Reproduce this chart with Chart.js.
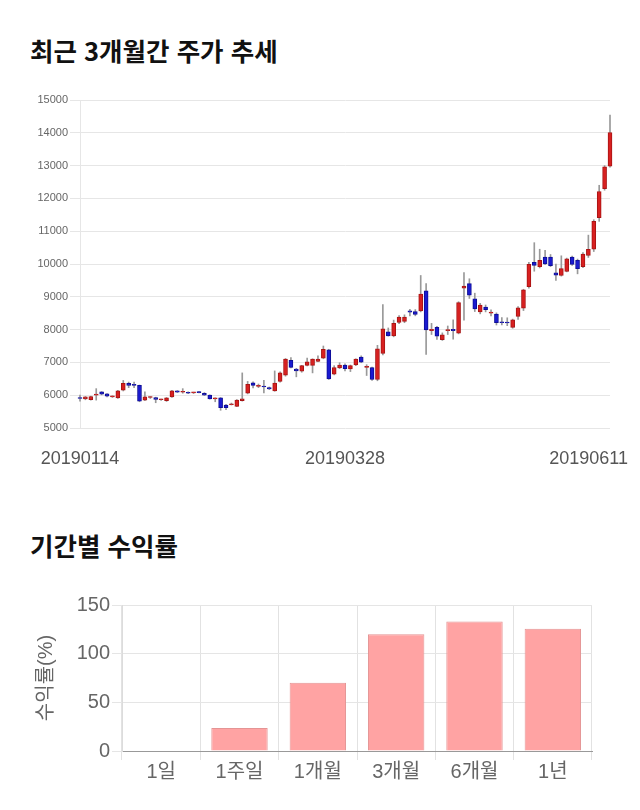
<!DOCTYPE html>
<html lang="ko">
<head>
<meta charset="UTF-8">
<title>최근 3개월간 주가 추세 / 기간별 수익률</title>
<style>
  body { margin: 0; background: #fff; font-family: 'Noto Sans CJK KR', sans-serif; }
  .wrap { position: relative; width: 640px; height: 810px; }
  h2 { position: absolute; left: 30px; margin: 0; font-size: 25.5px; font-weight: bold; color: #111; line-height: 30px; }
  #t1 { top: 35px; }
  #t2 { top: 530px; }
  canvas { position: absolute; left: 0; }
  #priceChart { top: 90px; }
  #returnChart { top: 580px; }
</style>
</head>
<body>
<div class="wrap">
  <h2 id="t1">최근 3개월간 주가 추세</h2>
  <canvas id="priceChart" width="640" height="390"></canvas>
  <h2 id="t2">기간별 수익률</h2>
  <canvas id="returnChart" width="640" height="220"></canvas>
</div>

<script src="https://cdn.jsdelivr.net/npm/chart.js"></script>
<script>
// trading days shown on the price chart
const dates = [
  '20190114','20190115','20190116','20190117','20190118','20190121','20190122','20190123','20190124','20190125',
  '20190128','20190129','20190130','20190131','20190201','20190207','20190208','20190211','20190212','20190213',
  '20190214','20190215','20190218','20190219','20190220','20190221','20190222','20190225','20190226','20190227',
  '20190228','20190304','20190305','20190306','20190307','20190308','20190311','20190312','20190313','20190314',
  '20190315','20190318','20190319','20190320','20190321','20190322','20190325','20190326','20190327','20190328',
  '20190329','20190401','20190402','20190403','20190404','20190405','20190408','20190409','20190410','20190411',
  '20190412','20190415','20190416','20190417','20190418','20190419','20190422','20190423','20190424','20190425',
  '20190426','20190429','20190430','20190502','20190507','20190508','20190509','20190510','20190513','20190514',
  '20190515','20190516','20190517','20190520','20190521','20190522','20190523','20190524','20190527','20190528',
  '20190529','20190530','20190531','20190603','20190604','20190605','20190607','20190610','20190611'
];
const tickIndexes = [0, 49, 98];

const opens = [
  5920,5890,5860,6000,6100,6040,5950,5920,6150,6360,
  6310,6300,5850,5930,5930,5860,5830,5950,6130,6090,
  6090,6070,6110,6060,6000,5890,5920,5700,5710,5660,
  5830,6060,6380,6270,6260,6230,6130,6420,6610,7060,
  6800,6730,6910,6910,7030,7130,7380,6640,6830,6920,
  6800,6920,7160,6850,6840,6480,7270,7930,7810,8220,
  8250,8570,8550,8570,9180,7970,8070,7690,7970,8010,
  7890,9260,9400,8940,8540,8690,8500,8470,8220,8210,
  8070,8400,8650,9310,10050,9920,10210,10210,9730,9650,
  9770,10210,10110,9920,10260,10450,11410,12300,12980
];
const highs = [
  6000,5960,5970,6200,6110,6050,5980,6150,6450,6400,
  6400,6310,6100,5960,5940,5880,5930,6150,6140,6200,
  6100,6090,6120,6080,6010,5920,5930,5720,5760,5870,
  6680,6420,6410,6340,6450,6250,6740,6710,7120,7150,
  6820,6910,7130,7110,7200,7500,7400,6900,6990,6960,
  6920,7110,7200,6930,6860,7520,8760,8050,8290,8430,
  8450,8620,8610,9650,9400,8190,8100,7900,8110,8300,
  8850,9740,9550,9110,8800,8750,8600,8510,8370,8360,
  8320,8700,9230,10050,10650,10450,10420,10290,10000,10250,
  10180,10240,10150,10350,10880,11350,12400,13000,14540
];
const lows = [
  5820,5860,5850,5850,6010,5950,5930,5900,6130,6230,
  6230,5800,5830,5900,5770,5840,5810,5930,6080,6060,
  6050,6050,6070,5990,5880,5800,5540,5560,5700,5650,
  5820,6040,6220,6230,6070,6170,6120,6400,6580,6830,
  6560,6700,6890,6680,7020,7110,6480,6620,6810,6740,
  6720,6900,6990,6600,6450,6440,7230,7800,7780,8180,
  8210,8420,8420,8540,7240,7850,7700,7670,7850,7710,
  7870,8290,8950,8550,8480,8540,8420,8140,8140,8120,
  8040,8310,8580,9260,9780,9880,9980,9920,9500,9630,
  9760,9960,9700,9890,10200,10380,11300,12250,12950
];
const closes = [
  5900,5950,5960,6010,6030,5970,5960,6130,6360,6300,
  6300,5820,5950,5930,5870,5860,5920,6130,6090,6100,
  6060,6070,6080,6000,5890,5900,5620,5620,5730,5850,
  5890,6330,6300,6290,6250,6190,6370,6680,7100,6850,
  6740,6900,7020,7100,7100,7400,6500,6840,6920,6810,
  6900,7100,7010,6850,6480,7410,8020,7810,8190,8380,
  8380,8530,8460,9080,7990,8010,7800,7840,7970,7970,
  8820,9330,9050,8630,8750,8610,8530,8210,8210,8200,
  8300,8660,9210,9990,9960,10110,10000,9950,9660,9860,
  10160,9990,9860,10300,10450,11300,12210,12960,14010
];

// period returns (%)
const periods = ['1일', '1주일', '1개월', '3개월', '6개월', '1년'];
const returns = [0, 23.6, 70, 120, 133, 125.7];

const UP = '#d82020', UP_EDGE = '#a81414';
const DOWN = '#1a1ad0', DOWN_EDGE = '#0e0e96';
const isUp = opens.map((o, i) => closes[i] >= o);

// x labels for the candle chart, kept inside the canvas like the original
const xLabelPlugin = {
  id: 'xLabels',
  afterDraw(chart) {
    const { ctx, chartArea } = chart;
    const x = chart.scales.x;
    ctx.save();
    ctx.font = '18px "Liberation Sans", Arial, sans-serif';
    ctx.fillStyle = '#555';
    ctx.textAlign = 'center';
    ctx.textBaseline = 'middle';
    tickIndexes.forEach(i => {
      const txt = dates[i];
      const w = ctx.measureText(txt).width;
      let px = x.getPixelForValue(i);
      px = Math.min(Math.max(px, w / 2 + 2), chart.width - w / 2 - 12);
      ctx.fillText(txt, px, chartArea.bottom + 31);
    });
    ctx.restore();
  }
};

new Chart(document.getElementById('priceChart'), {
  type: 'bar',
  data: {
    labels: dates,
    datasets: [
      {
        label: 'body',
        data: opens.map((o, i) => [o, closes[i]]),
        backgroundColor: isUp.map(u => u ? UP : DOWN),
        borderColor: isUp.map(u => u ? UP_EDGE : DOWN_EDGE),
        borderWidth: 1,
        borderSkipped: false,
        barThickness: 4,
        minBarLength: 1,
        grouped: false,
        clip: false,
        order: 0
      },
      {
        label: 'wick',
        data: lows.map((l, i) => [l, highs[i]]),
        backgroundColor: '#999',
        barThickness: 1,
        grouped: false,
        clip: false,
        order: 1
      }
    ]
  },
  options: {
    responsive: false,
    animation: false,
    layout: { padding: { left: 0, right: 30, top: 10, bottom: 52 } },
    plugins: { legend: { display: false }, tooltip: { enabled: false } },
    scales: {
      x: { display: false, offset: false },
      y: {
        min: 5000, max: 15000,
        ticks: {
          stepSize: 1000, color: '#666', padding: 2,
          font: { size: 11, family: '"Liberation Sans", Arial, sans-serif' },
          callback: v => String(v)
        },
        grid: { color: '#e6e6e6', tickLength: 10 },
        border: { color: '#e6e6e6' },
        afterFit: s => { s.width = 80; }
      }
    }
  },
  plugins: [xLabelPlugin]
});

const axisFont = { size: 20, family: '"Liberation Sans", "Noto Sans CJK KR", sans-serif' };

new Chart(document.getElementById('returnChart'), {
  type: 'bar',
  data: {
    labels: periods,
    datasets: [{
      data: returns,
      backgroundColor: '#ffa3a3',
      borderColor: '#e49494',
      borderWidth: 1
    }]
  },
  options: {
    responsive: false,
    animation: false,
    layout: { padding: { left: 0, right: 48, top: 25, bottom: 0 } },
    plugins: { legend: { display: false }, tooltip: { enabled: false } },
    scales: {
      x: {
        grid: { offset: true, tickLength: 9, color: c => c.index === periods.length ? 'rgba(0,0,0,0)' : '#e2e2e2' },
        border: { color: '#999' },
        ticks: { color: '#666', padding: 0, font: axisFont },
        afterFit: s => { s.height = 49; }
      },
      y: {
        min: 0, max: 150,
        ticks: { stepSize: 50, color: '#666', padding: 2, font: axisFont },
        grid: { color: '#e5e5e5', tickLength: 10 },
        border: { color: '#dcdcdc' },
        title: { display: true, text: '수익률(%)', color: '#666', font: axisFont, padding: { top: 34, bottom: 4 } },
        afterFit: s => { s.width = 122; }
      }
    }
  }
});
</script>
</body>
</html>
